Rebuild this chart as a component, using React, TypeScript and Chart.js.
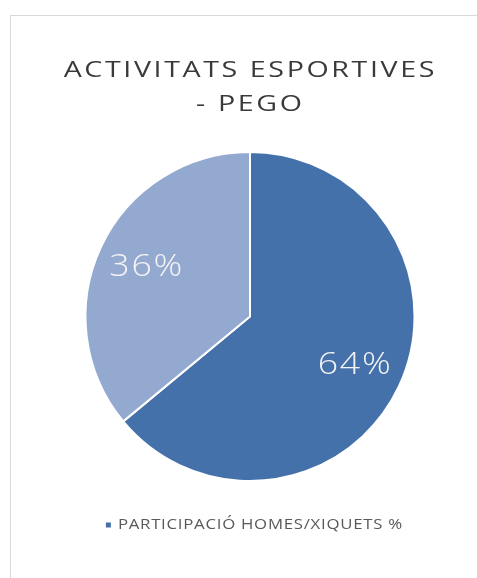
import React, { useEffect, useRef } from "react";
import { Chart, registerables } from "chart.js";

Chart.register(...registerables);

const titleLines = ["ACTIVITATS ESPORTIVES", "- PEGO"];
const seriesName = "PARTICIPACIÓ HOMES/XIQUETS %";
const categories = ["1", "2"];
const values = [64, 36];
const sliceColors = ["#4471A9", "#93A9D0"];

const FONT = '"Open Sans", "DejaVu Sans", sans-serif';

// draws text centred on cx, widened horizontally by k with extra letter spacing
function drawWide(ctx: any, text: string, cx: number, y: number, spacing: number, k: number) {
  ctx.save();
  ctx.letterSpacing = spacing + "px";
  const w = ctx.measureText(text).width - spacing;
  ctx.textAlign = "left";
  ctx.translate(cx, y);
  ctx.scale(k, 1);
  ctx.fillText(text, -w / 2, 0);
  ctx.restore();
  return w * k;
}

function measureWide(ctx: any, text: string, spacing: number, k: number) {
  ctx.save();
  ctx.letterSpacing = spacing + "px";
  const w = ctx.measureText(text).width - spacing;
  ctx.restore();
  return w * k;
}

const sliceLabelPlugin = {
  id: "sliceLabels",
  afterDatasetsDraw(chart: any) {
    const ctx = chart.ctx;
    const meta = chart.getDatasetMeta(0);
    const data = chart.data.datasets[0].data as number[];
    const total = data.reduce((a, b) => a + b, 0);
    ctx.save();
    ctx.font = `300 31px ${FONT}`;
    ctx.fillStyle = "#f4f4f4";
    ctx.textBaseline = "middle";
    meta.data.forEach((arc: any, i: number) => {
      const { x, y, startAngle, endAngle, outerRadius } = arc.getProps(
        ["x", "y", "startAngle", "endAngle", "outerRadius"],
        true
      );
      const mid = (startAngle + endAngle) / 2;
      const r = outerRadius * 0.7;
      drawWide(
        ctx,
        Math.round((data[i] / total) * 100) + "%",
        x + Math.cos(mid) * r,
        y + Math.sin(mid) * r,
        1.5,
        1.15
      );
    });
    ctx.restore();
  },
};

const textBlocksPlugin = {
  id: "textBlocks",
  afterDraw(chart: any) {
    const ctx = chart.ctx;
    const cx = chart.width / 2;
    ctx.save();
    ctx.textBaseline = "middle";
    // title
    ctx.font = `normal 22px ${FONT}`;
    ctx.fillStyle = "#3a3a3a";
    titleLines.forEach((line, i) => {
      drawWide(ctx, line, cx - 1, 55 + i * 34, 2, 1.3);
    });
    // legend (single series entry)
    ctx.font = `normal 14px ${FONT}`;
    const tw = measureWide(ctx, seriesName, 0.6, 1.2);
    const box = 5;
    const gap = 7;
    const total = box + gap + tw;
    const lx = cx + 4 - total / 2;
    const ly = 509;
    ctx.fillStyle = sliceColors[0];
    ctx.fillRect(lx, ly - box / 2, box, box);
    ctx.fillStyle = "#595959";
    drawWide(ctx, seriesName, lx + box + gap + tw / 2, ly, 0.6, 1.2);
    ctx.restore();
  },
};

export default function App() {
  const ref = useRef<HTMLCanvasElement | null>(null);

  useEffect(() => {
    if (!ref.current) return;
    const chart = new Chart(ref.current, {
      type: "pie",
      data: {
        labels: categories,
        datasets: [
          {
            label: seriesName,
            data: values,
            backgroundColor: sliceColors,
            borderColor: "#ffffff",
            borderWidth: 2,
          },
        ],
      },
      options: {
        responsive: false,
        animation: false,
        layout: { padding: { top: 135, bottom: 68, left: 0, right: 0 } },
        plugins: {
          tooltip: { enabled: false },
          title: { display: false },
          legend: { display: false },
        },
      },
      plugins: [sliceLabelPlugin, textBlocksPlugin],
    });
    return () => chart.destroy();
  }, []);

  return (
    <div
      style={{
        position: "fixed",
        inset: 0,
        overflow: "hidden",
        background: "#ffffff",
      }}
    >
      <div
        style={{
          position: "absolute",
          left: 10,
          top: 15,
          width: 480,
          height: 580,
          border: "1px solid #d9d9d9",
          boxSizing: "border-box",
          background: "#ffffff",
        }}
      >
        <canvas ref={ref} width={478} height={534} style={{ display: "block" }} />
      </div>
    </div>
  );
}
